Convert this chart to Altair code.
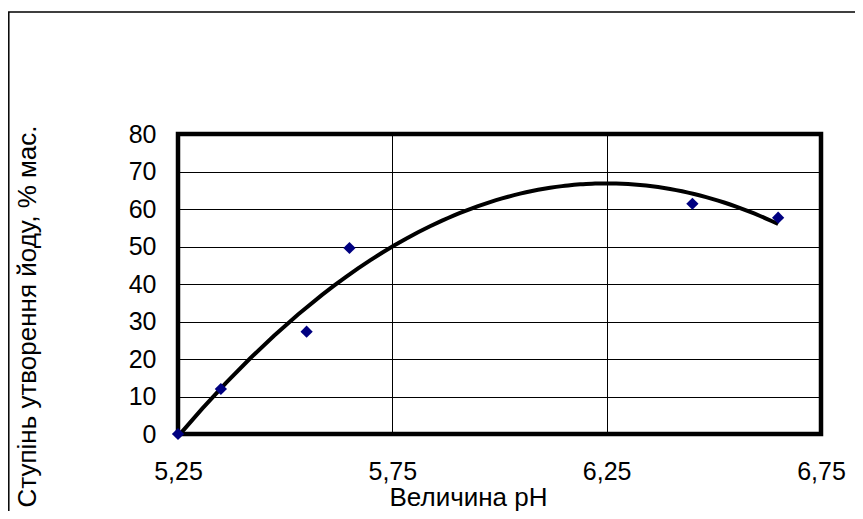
import altair as alt
import pandas as pd

# Data
ph = [5.25, 5.35, 5.55, 5.65, 6.45, 6.65]
iodine = [0, 12, 27.3, 49.6, 61.4, 57.7]
x_ticks = [5.25, 5.75, 6.25, 6.75]
y_ticks = [0, 10, 20, 30, 40, 50, 60, 70, 80]
x_title = "Величина pH"
y_title = "Ступінь утворення йоду, % мас."

df = pd.DataFrame({"ph": ph, "iodine": iodine})

FONT = "Liberation Sans"

x_axis = alt.Axis(
    values=x_ticks,
    title=x_title,
    labelExpr="replace(format(datum.value, '.2f'), '.', ',')",
    ticks=False,
    domain=False,
    grid=True,
    gridColor="black",
    gridWidth=1,
    labelFlush=False,
    labelPadding=25,
    labelFontSize=25,
    labelFont=FONT,
    labelColor="black",
    titleFont=FONT,
    titleFontSize=26,
    titleFontWeight="normal",
    titleColor="black",
    titleX=290,
    titleY=50,
    titleAlign="center",
    titleBaseline="top",
)
y_axis = alt.Axis(
    values=y_ticks,
    title=y_title,
    ticks=False,
    domain=False,
    grid=True,
    gridColor="black",
    gridWidth=1,
    labelFlush=False,
    labelPadding=22,
    labelFontSize=25,
    labelFont=FONT,
    labelColor="black",
    titleFont=FONT,
    titleFontSize=26,
    titleFontWeight="normal",
    titleColor="black",
    titleAngle=270,
    titleX=-151,
    titleY=182,
    titleAlign="center",
    titleBaseline="middle",
)

x_enc = alt.X("ph:Q", scale=alt.Scale(domain=[5.25, 6.75], nice=False, zero=False), axis=x_axis)
y_enc = alt.Y("iodine:Q", scale=alt.Scale(domain=[0, 80], nice=False), axis=y_axis)

curve = (
    alt.Chart(df)
    .transform_regression("ph", "iodine", method="poly", order=2)
    .mark_line(color="black", strokeWidth=4)
    .encode(x=x_enc, y=y_enc)
)

points = (
    alt.Chart(df)
    .mark_point(shape="diamond", filled=True, size=150, color="#000080", opacity=1)
    .encode(x=x_enc, y=y_enc)
)

frame = (
    alt.Chart(pd.DataFrame({"k": [0]}))
    .mark_rect(fillOpacity=0, stroke="black", strokeWidth=1.5)
    .encode(x=alt.value(-169.2), x2=alt.value(700), y=alt.value(-122), y2=alt.value(420))
)

chart = (
    alt.layer(frame, curve, points)
    .properties(
        width=643,
        height=300,
        autosize=alt.AutoSizeParams(type="none"),
        padding={"left": 170, "top": 126, "right": 34, "bottom": 77},
        background="white",
    )
    .configure_view(stroke="black", strokeWidth=4.5)
)

chart.save("out.html", embed_options={"renderer": "svg", "actions": False})
